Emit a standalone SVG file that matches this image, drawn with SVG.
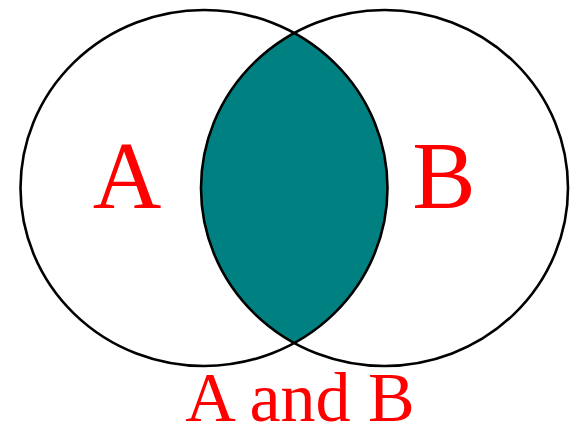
<svg xmlns="http://www.w3.org/2000/svg" width="578" height="422" viewBox="0 0 578 422">
<style>
.ring{fill:none;stroke:#000;stroke-width:2.6}
.lens{fill:#008080;stroke:none}
.lbl{font-family:"Liberation Serif","Times New Roman",serif;fill:#ff0000;text-anchor:middle}
</style>
<rect width="578" height="422" fill="#fff"/>
<g id="intersection">
<path class="lens" d="M294.25 33 A183.5 178 0 0 0 294.25 343 A183.5 178 0 0 0 294.25 33 Z"/>
</g>
<g id="setA">
<ellipse class="ring" cx="204" cy="188" rx="183.5" ry="178"/>
<text class="lbl" x="127" y="208" font-size="95">A</text>
</g>
<g id="setB">
<ellipse class="ring" cx="384.5" cy="188" rx="183.5" ry="178"/>
<text class="lbl" x="444" y="208" font-size="95">B</text>
</g>
<g id="caption">
<text class="lbl" x="300" y="421" font-size="70">A and B</text>
</g>
</svg>
